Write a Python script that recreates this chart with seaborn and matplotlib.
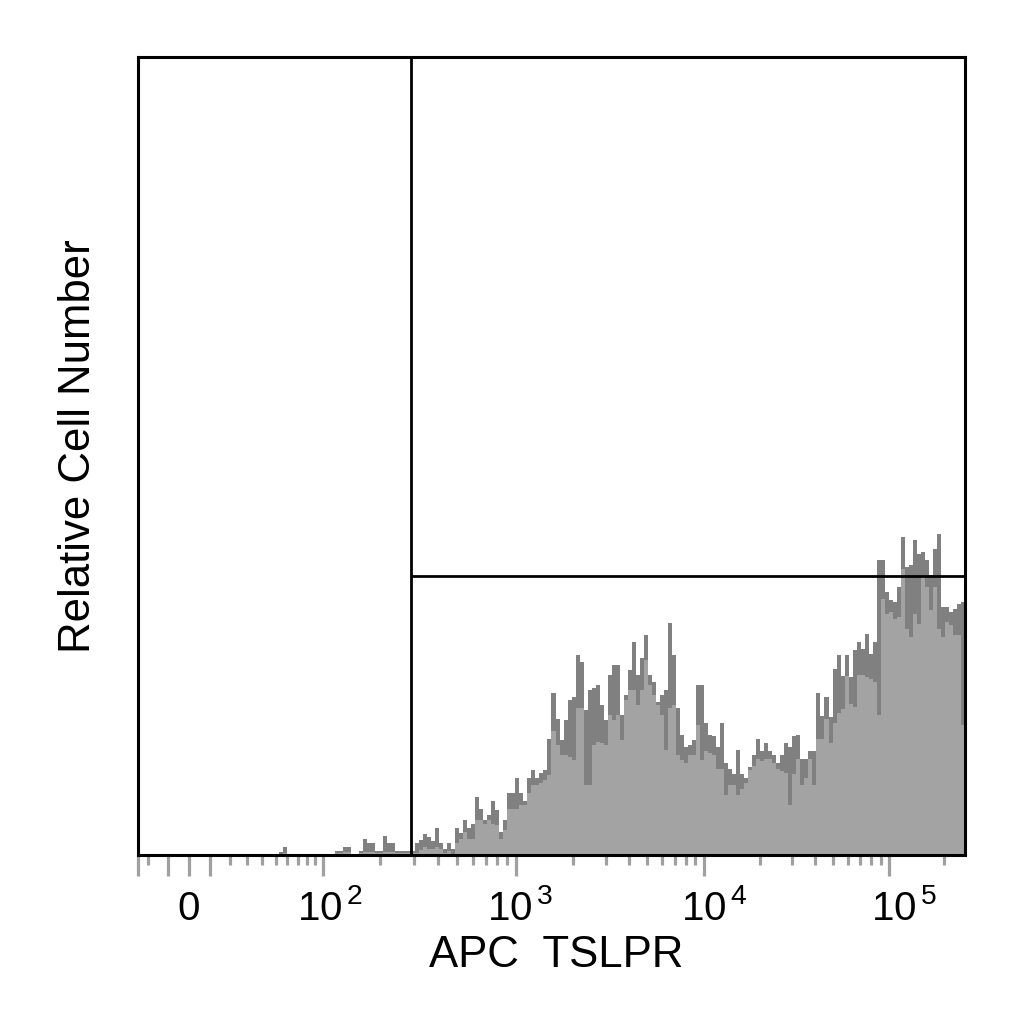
import numpy as np
import pandas as pd
import matplotlib
matplotlib.use("Agg")
import matplotlib.pyplot as plt
import matplotlib.transforms as mtransforms
import seaborn as sns

# histogram counts per display channel (206 channels across the axis)
# dark layer = raw outline, light layer = fill
dark_counts = (
    [0] * 35 + [3, 8] + [0] * 12
    + [4, 4, 8, 8, 0, 0, 4, 16, 12, 12, 4, 4, 19, 12, 12, 4, 4, 4, 4, 4]
    # gated region
    + [12, 15, 21, 18, 14, 27, 12, 6, 12, 6, 27, 22, 35, 27, 31, 58, 46, 35, 40, 54,
       45, 23, 35, 62, 62, 77, 62, 54, 77, 85, 77, 82, 85, 116]
    + [162, 136, 115, 135, 155, 158, 200, 193, 145, 165, 167, 170, 150, 135, 180, 190,
       190, 140, 160, 185, 213, 180, 197, 220, 180, 173, 153, 160, 165, 232, 200, 147,
       120, 108, 110, 115, 170]
    + [170, 132, 120, 119, 108, 132, 92, 86, 81, 105, 81, 77, 88, 100, 116, 104, 112,
       104, 100, 92, 100, 112, 108, 119, 120, 96, 96, 104, 104, 162, 139, 158, 138, 186,
       200, 179, 200]
    + [178, 205, 213, 206, 221, 201, 213, 295, 295, 263, 255, 253, 268, 318, 288, 290,
       315, 301, 303, 295, 280, 306, 321, 248, 248, 243, 246, 251, 253]
)
light_counts = (
    [0] * 35 + [0, 2] + [0] * 12
    + [2, 2, 3, 3, 0, 0, 2, 3, 3, 3, 2, 2, 3, 3, 3, 2, 2, 2, 2, 2]
    + [2, 5, 8, 6, 6, 8, 6, 2, 4, 0, 12, 16, 23, 16, 16, 35, 35, 31, 35, 31,
       30, 16, 25, 46, 46, 46, 50, 50, 62, 70, 70, 72, 75, 80]
    + [124, 110, 100, 100, 98, 95, 147, 147, 70, 70, 110, 113, 112, 110, 140, 135,
       140, 115, 155, 165, 165, 150, 165, 195, 170, 160, 150, 140, 105, 147, 150, 100,
       95, 92, 100, 100, 130]
    + [95, 104, 102, 100, 86, 86, 60, 70, 70, 60, 66, 72, 85, 89, 96, 94, 96, 96,
       92, 86, 84, 82, 50, 81, 96, 70, 77, 96, 70, 116, 116, 136, 112, 132, 142, 146, 179]
    + [151, 148, 180, 180, 178, 176, 173, 140, 256, 241, 243, 236, 238, 286, 226, 218,
       241, 231, 280, 268, 245, 268, 226, 218, 233, 230, 220, 220, 130]
)

x_min, x_max = -25.5, 262144
gate_x = 290
gate_y = 279
y_max = 798

major_ticks = [x_min, -10, 0, 10, 1e2, 1e3, 1e4, 1e5]
major_labels = ["", "", r"$\mathregular{0}$", "",
                r"$\mathregular{10^{\,2}}$", r"$\mathregular{10^{\,3}}$",
                r"$\mathregular{10^{\,4}}$", r"$\mathregular{10^{\,5}}$"]
minor_ticks = ([-20] + [20, 30, 40, 50, 60, 70, 80, 90]
               + [200, 300, 400, 500, 600, 700, 800, 900]
               + [2e3, 3e3, 4e3, 5e3, 6e3, 7e3, 8e3, 9e3]
               + [2e4, 3e4, 4e4, 5e4, 6e4, 7e4, 8e4, 9e4] + [2e5])

# biexponential-like display scale (asinh, calibrated on the decades)
W = 36.4
anchor_vals = np.array([x_min, 0, 1e2, 1e3, 1e4, 1e5, x_max])
anchor_pos = np.array([0.0, 0.0617, 0.2237, 0.4571, 0.6844, 0.9081, 1.0])
anchor_u = np.arcsinh(anchor_vals / W)


def _pw(x, xp, fp):
    x = np.asarray(x, dtype=float)
    y = np.interp(x, xp, fp)
    lo_s = (fp[1] - fp[0]) / (xp[1] - xp[0])
    hi_s = (fp[-1] - fp[-2]) / (xp[-1] - xp[-2])
    y = np.where(x < xp[0], fp[0] + (x - xp[0]) * lo_s, y)
    y = np.where(x > xp[-1], fp[-1] + (x - xp[-1]) * hi_s, y)
    return y


def fwd(v):
    return _pw(np.arcsinh(np.asarray(v, dtype=float) / W), anchor_u, anchor_pos)


def inv(p):
    return W * np.sinh(_pw(p, anchor_pos, anchor_u))


n = len(dark_counts)
pos_edges = np.linspace(0, 1, n + 1)
edges = [float(e) for e in inv(pos_edges)]
centers = inv((pos_edges[:-1] + pos_edges[1:]) / 2)
df = pd.DataFrame({"APC TSLPR": centers, "dark": dark_counts, "light": light_counts})

sns.set_style("white")
plt.rcParams["font.family"] = ["Liberation Sans", "DejaVu Sans"]
plt.rcParams["mathtext.fontset"] = "custom"
plt.rcParams["mathtext.rm"] = "Liberation Sans"
plt.rcParams["text.color"] = "black"
plt.rcParams["axes.labelcolor"] = "black"

fig = plt.figure(figsize=(10.24, 10.24), dpi=100)
ax = fig.add_axes([138 / 1024, (1024 - 855) / 1024, 827 / 1024, 798 / 1024])

# histogram computed on the linear axis, then the display scale is applied
sns.histplot(data=df, x="APC TSLPR", weights="dark", bins=edges, element="step",
             fill=True, color="#808080", alpha=1, linewidth=0, ax=ax)
sns.histplot(data=df, x="APC TSLPR", weights="light", bins=edges, element="step",
             fill=True, color="#a3a3a3", alpha=1, linewidth=0, ax=ax)

ax.set_xscale("function", functions=(fwd, inv))
ax.set_xlim(x_min, x_max)
ax.set_ylim(0, y_max)

# gates
ax.axvline(gate_x, color="black", lw=2.0)
ax.hlines(gate_y, gate_x, x_max, color="black", lw=2.0)

ax.set_xticks(major_ticks)
ax.set_xticklabels(major_labels)
ax.set_xticks(minor_ticks, minor=True)
ax.tick_params(axis="x", which="major", direction="out", length=15, width=2.3,
               color="#a0a0a0", labelsize=29, labelcolor="black", pad=31.5, bottom=True)
ax.tick_params(axis="x", which="minor", direction="out", length=7.2, width=2.3,
               color="#a0a0a0", bottom=True)
ax.tick_params(axis="y", left=False, labelleft=False)

# labels sit on a common baseline, nudged sideways like the cytometry software does
shifts = [0, 0, -1, 0, 7, 4, 10, 15]
for tick, dx in zip(ax.xaxis.get_major_ticks(), shifts):
    lab = tick.label1
    lab.set_va("baseline")
    lab.set_transform(lab.get_transform()
                      + mtransforms.ScaledTranslation(dx / 100, 0, fig.dpi_scale_trans))

for s in ax.spines.values():
    s.set_color("black")
    s.set_linewidth(2.2)

ax.set_xlabel("APC  TSLPR", fontsize=31.5)
ax.set_ylabel("Relative Cell Number", fontsize=31.5)
ax.xaxis.set_label_coords(0.5054, -0.100)
ax.yaxis.set_label_coords(-0.047, 0.5125)

fig.savefig("out.png", dpi=100)
